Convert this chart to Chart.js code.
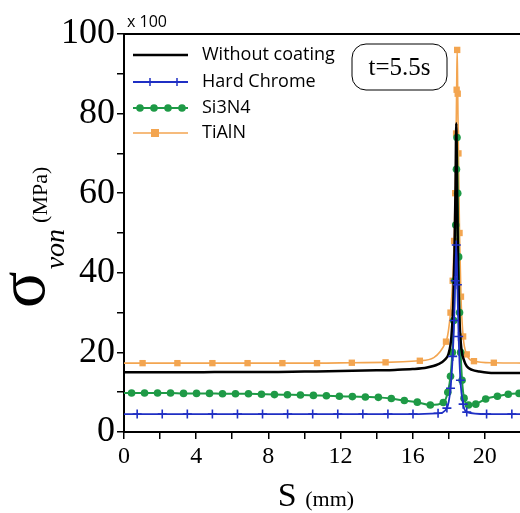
<!DOCTYPE html>
<html>
<head>
<meta charset="utf-8">
<script src="https://cdn.jsdelivr.net/npm/chart.js@4.4.1/dist/chart.umd.min.js"></script>
<style>
  html, body { margin: 0; padding: 0; background: #fff; overflow: hidden; }
  #wrap { width: 520px; height: 513px; overflow: hidden; }
</style>
</head>
<body>
<div id="wrap"><canvas id="c" width="545" height="513"></canvas></div>
<script>
// S (mm) and von Mises stress (x 100 MPa) at t = 5.5 s
const blackX = [0, 2, 4, 6, 8, 10, 12, 14, 15, 16, 16.8, 17.4, 17.8, 18.0, 18.15, 18.25, 18.32, 18.38, 18.42, 18.46, 18.52, 18.6, 18.7, 18.85, 19.0, 19.3, 19.7, 20.2, 21, 22, 23];
const blackY = [15.0, 15.0, 15.0, 15.1, 15.1, 15.2, 15.3, 15.5, 15.6, 15.8, 16.2, 17.0, 18.2, 19.8, 24, 32, 45, 62, 77.6, 62, 42, 28, 21, 18, 16.5, 15.6, 15.2, 14.9, 14.8, 14.8, 14.8];

const chromeX = [0, 0.73, 2.12, 3.51, 4.9, 6.29, 7.68, 9.07, 10.46, 11.85, 13.24, 14.63, 16.02, 17.41, 17.9, 18.1, 18.22, 18.3, 18.36, 18.42, 18.48, 18.55, 18.65, 18.8, 19.0, 20.1, 21.5, 22.9];
const chromeY = [4.5, 4.5, 4.5, 4.5, 4.5, 4.5, 4.5, 4.5, 4.5, 4.5, 4.5, 4.5, 4.5, 4.7, 6, 11, 19, 28, 38, 47, 37, 24, 13, 7, 5, 4.5, 4.5, 4.5];

const si3n4X = [0, 0.42, 1.14, 1.86, 2.58, 3.3, 4.02, 4.74, 5.46, 6.18, 6.9, 7.62, 8.34, 9.06, 9.78, 10.5, 11.22, 11.94, 12.66, 13.38, 14.1, 14.82, 15.54, 16.26, 16.98, 17.7, 17.95, 18.1, 18.2, 18.28, 18.34, 18.39, 18.43, 18.46, 18.5, 18.55, 18.6, 18.66, 18.74, 18.85, 19.1, 19.5, 20.05, 20.7, 21.3, 21.9, 22.5];
const si3n4Y = [9.8, 9.8, 9.8, 9.8, 9.8, 9.7, 9.7, 9.7, 9.6, 9.6, 9.6, 9.5, 9.4, 9.35, 9.3, 9.2, 9.1, 9.0, 8.9, 8.8, 8.7, 8.4, 7.9, 7.5, 6.8, 7.4, 10, 14, 20, 28, 38, 52, 66, 74, 60, 44, 30, 20, 13, 8.5, 6.8, 7.0, 8.3, 9.0, 9.5, 9.7, 9.8];

const tialnX = [0, 1.03, 2.96, 4.9, 6.85, 8.78, 10.7, 12.63, 14.5, 16.4, 17.85, 18.1, 18.22, 18.3, 18.36, 18.41, 18.44, 18.47, 18.5, 18.54, 18.6, 18.68, 18.8, 19.0, 19.4, 20.5, 22.4];
const tialnY = [17.3, 17.3, 17.3, 17.3, 17.3, 17.3, 17.3, 17.4, 17.5, 17.9, 22.7, 30, 38, 48, 60, 75, 86, 96, 85, 70, 50, 34, 24, 19.5, 17.8, 17.4, 17.3];

const seriesNames = ['Without coating', 'Hard Chrome', 'Si3N4', 'TiAlN'];
const yTicks = [0, 20, 40, 60, 80, 100];
const xTicks = [0, 4, 8, 12, 16, 20];

function pts(xs, ys) {
  return xs.map((x, i) => ({ x: x, y: ys[i] }));
}
// first point sits on the axis, no marker there
const markerSize = r => ctx => ctx.dataIndex === 0 ? 0 : r;

// legend drawn inside the plot, top-left, like the original
const innerLegend = {
  id: 'innerLegend',
  afterDraw(chart) {
    const c = chart.ctx;
    const area = chart.chartArea;
    c.save();
    // top frame
    c.strokeStyle = '#000';
    c.lineWidth = 2;
    c.beginPath();
    c.moveTo(area.left - 1, area.top);
    c.lineTo(area.right + 1, area.top);
    c.stroke();

    const rows = [55, 82, 108, 133];
    const marks = [[], [150, 177], [140, 154, 168, 182], [155]];
    chart.data.datasets.forEach((ds, i) => {
      const y = rows[i];
      c.strokeStyle = ds.borderColor;
      c.lineWidth = ds.borderWidth;
      c.beginPath();
      c.moveTo(133, y);
      c.lineTo(188, y);
      c.stroke();
      marks[i].forEach(mx => {
        c.fillStyle = ds.pointBackgroundColor;
        c.strokeStyle = ds.pointBorderColor;
        c.lineWidth = 1.5;
        if (ds.pointStyle === 'circle') {
          c.beginPath(); c.arc(mx, y, 3.8, 0, Math.PI * 2); c.fill();
        } else if (ds.pointStyle === 'rect') {
          c.fillRect(mx - 4, y - 4, 8, 8);
        } else if (ds.pointStyle === 'cross') {
          c.beginPath(); c.moveTo(mx, y - 4); c.lineTo(mx, y + 4); c.stroke();
        }
      });
      c.fillStyle = '#000';
      c.font = '18px "Open Sans"';
      c.textBaseline = 'middle';
      c.textAlign = 'left';
      c.fillText(ds.label, 202, y);
    });

    // multiplier
    c.font = '16px "Open Sans"';
    c.textBaseline = 'alphabetic';
    c.fillText('x 100', 127, 27);

    // time box
    c.lineWidth = 1;
    c.strokeStyle = '#000';
    c.beginPath();
    c.roundRect(352, 44, 95, 46, 14);
    c.stroke();
    c.font = '25px "Liberation Serif"';
    c.textAlign = 'center';
    c.textBaseline = 'middle';
    c.fillText('t=5.5s', 399.5, 68);

    // x title
    c.textAlign = 'left';
    c.textBaseline = 'alphabetic';
    c.font = '34px "Liberation Serif"';
    const sW = c.measureText('S ').width;
    c.font = '22px "Liberation Serif"';
    const mW = c.measureText('(mm)').width;
    const x0 = 316 - (sW + mW) / 2;
    c.font = '34px "Liberation Serif"';
    c.fillText('S', x0, 506);
    c.font = '22px "Liberation Serif"';
    c.fillText('(mm)', x0 + sW, 506);

    // y title, rotated
    c.translate(44, 308);
    c.rotate(-Math.PI / 2);
    c.font = '68px "Liberation Serif"';
    c.fillText('σ', 0, 0);
    const gW = c.measureText('σ').width;
    c.font = 'italic 28px "Liberation Serif"';
    c.fillText('von', gW + 2, 20);
    const vW = c.measureText('von').width;
    c.font = '22px "Liberation Serif"';
    c.fillText('(MPa)', gW + vW + 8, 3);
    c.restore();
  }
};

new Chart(document.getElementById('c'), {
  type: 'line',
  data: {
    datasets: [
      {
        label: seriesNames[0], data: pts(blackX, blackY),
        borderColor: '#000000', borderWidth: 2.5, pointRadius: 0,
        pointBackgroundColor: '#000', pointBorderColor: '#000', pointStyle: 'line',
        cubicInterpolationMode: 'monotone', order: 1
      },
      {
        label: seriesNames[1], data: pts(chromeX, chromeY),
        borderColor: '#1f2fc4', borderWidth: 1.8, pointStyle: 'cross',
        pointRadius: markerSize(4.5), pointBorderWidth: 1.6,
        pointBackgroundColor: '#1f2fc4', pointBorderColor: '#1f2fc4',
        cubicInterpolationMode: 'monotone', order: 0
      },
      {
        label: seriesNames[2], data: pts(si3n4X, si3n4Y),
        borderColor: '#1e9a46', borderWidth: 2, pointStyle: 'circle',
        pointRadius: markerSize(3.8), pointBorderWidth: 0,
        pointBackgroundColor: '#1e9a46', pointBorderColor: '#1e9a46',
        cubicInterpolationMode: 'monotone', order: 2
      },
      {
        label: seriesNames[3], data: pts(tialnX, tialnY),
        borderColor: '#f3a550', borderWidth: 1.6, pointStyle: 'rect',
        pointRadius: markerSize(4.5), pointBorderWidth: 0,
        pointBackgroundColor: '#f3a550', pointBorderColor: '#f3a550',
        cubicInterpolationMode: 'monotone', order: 3
      }
    ]
  },
  options: {
    responsive: false,
    animation: false,
    devicePixelRatio: 1,
    layout: { padding: { left: 0, top: 34, right: 3.5, bottom: 0 } },
    plugins: { legend: { display: false }, tooltip: { enabled: false } },
    scales: {
      x: {
        type: 'linear', min: 0, max: 23,
        afterFit: s => { s.height = 81; },
        ticks: {
          stepSize: 2, includeBounds: false, autoSkip: false, maxRotation: 0,
          padding: 3, color: '#000',
          font: { family: 'Liberation Serif', size: 24 },
          callback: v => xTicks.includes(v) ? String(v) : ''
        },
        grid: { drawOnChartArea: false, tickLength: 7, color: '#000', lineWidth: 1.5 },
        border: { color: '#000', width: 2 }
      },
      y: {
        min: 0, max: 100,
        afterFit: s => { s.width = 124; },
        ticks: {
          stepSize: 10, autoSkip: false, padding: 2, color: '#000',
          font: { family: 'Liberation Serif', size: 36 },
          callback: v => yTicks.includes(v) ? String(v) : ''
        },
        grid: { drawOnChartArea: false, tickLength: 7, color: '#000', lineWidth: 1.5 },
        border: { color: '#000', width: 2 }
      }
    }
  },
  plugins: [innerLegend]
});
</script>
</body>
</html>
